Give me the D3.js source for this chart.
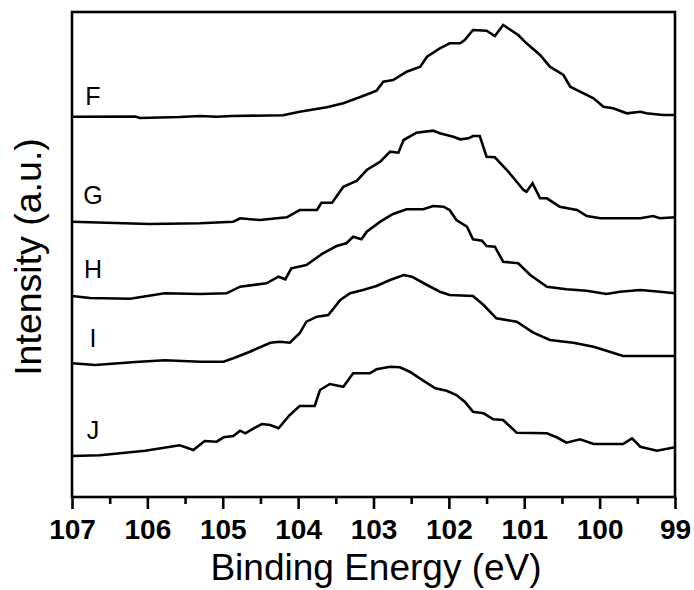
<!DOCTYPE html>
<html>
<head>
<meta charset="utf-8">
<script src="https://cdn.jsdelivr.net/npm/d3@7"></script>
<style>
  html, body { margin: 0; padding: 0; background: #fff; }
  svg { display: block; }
</style>
</head>
<body>
<svg id="chart" width="694" height="590"></svg>
<script>
// ---- data (binding energy in eV, intensity in arbitrary units, curves already offset) ----
const seriesNames = ["F", "G", "H", "I", "J"];

const energyF = [107.00,106.16,106.10,105.57,105.30,105.08,104.88,104.20,103.98,103.62,103.40,103.14,102.96,102.87,102.74,102.56,102.38,102.29,102.12,101.99,101.85,101.79,101.68,101.50,101.39,101.28,101.08,100.97,100.79,100.66,100.48,100.39,100.26,100.08,99.95,99.82,99.64,99.46,99.38,99.16,99.00];
const intensityF = [380.3,380.5,379,380,381,380.3,381,381.7,385.3,389.7,393.7,401,406.3,415.3,417,425.3,430.3,440.3,448.7,453.7,453.7,457,467,466.3,461,472,462,453.7,442,430.3,422,410.3,405.3,398.7,390.3,388.7,383.7,385.3,383.7,382,382];

const energyG = [107.00,105.97,105.30,104.86,104.77,104.51,104.15,103.98,103.75,103.69,103.55,103.40,103.22,103.09,102.91,102.78,102.67,102.60,102.43,102.21,102.12,101.94,101.85,101.74,101.68,101.59,101.50,101.39,101.23,101.01,100.97,100.89,100.79,100.70,100.53,100.30,100.17,99.99,99.46,99.29,99.20,99.00];
const intensityG = [275.3,273,273.7,275.3,278.7,277,279.7,287,287,294.3,294.3,310.3,316.3,327,335.3,345.3,344.3,357,364.3,366.3,363.7,360.3,357.7,358.7,361,361,340.3,339.7,327,307,305.3,313.7,298.7,298.7,290.3,287,281,278.7,278.7,281,278.7,279.7];

const energyH = [107.00,106.76,106.23,105.77,105.30,104.95,104.77,104.42,104.26,104.17,104.09,103.89,103.67,103.49,103.36,103.27,103.16,103.09,102.91,102.74,102.56,102.34,102.21,102.07,101.99,101.90,101.76,101.68,101.56,101.50,101.39,101.28,101.08,100.92,100.70,100.44,100.17,99.91,99.73,99.46,99.20,99.00];
const intensityH = [201,199,198.3,203.7,203,203.7,210.3,213.7,220.3,217.7,228.7,232,243.7,251,253.7,260.3,257.7,265.3,275.3,283,287.7,287.7,291,290.3,287,277,270.3,257.7,256.3,251,250.3,235.3,233.7,222,210.3,207.7,206.3,203,205.3,207,205.3,203.7];

const energyI = [107.00,106.69,106.16,105.77,105.30,104.99,104.86,104.64,104.37,104.24,104.11,103.98,103.89,103.75,103.60,103.44,103.31,103.14,102.96,102.78,102.60,102.49,102.29,102.12,101.99,101.68,101.54,101.37,101.10,100.88,100.66,100.35,100.08,99.91,99.69,99.00];
const intensityI = [133.7,132,135,136.7,135.3,135.3,138.7,145.3,154.3,155.3,154.3,163.7,175.3,180.3,182,197,203.7,207,211,217,222,220.3,212,205.3,202,201,192,178.7,175.3,164.3,157,154.3,150.3,146.3,141,141];

const energyJ = [107.00,106.63,106.03,105.57,105.39,105.24,105.08,104.99,104.86,104.77,104.70,104.59,104.48,104.37,104.26,104.11,103.98,103.78,103.71,103.58,103.40,103.27,103.05,102.96,102.78,102.65,102.52,102.34,102.18,102.03,101.90,101.79,101.68,101.54,101.41,101.28,101.10,100.70,100.57,100.44,100.26,100.08,99.69,99.57,99.46,99.24,99.00];
const intensityJ = [41,41.7,46.3,51.7,47,56,55.3,59.7,61,66.3,63.7,68.7,73,72,68.7,82,91,91,107,113,110.3,123.7,123.7,127.7,130.3,129.7,125.3,116.3,108.7,106.3,102,95.3,85.3,83.7,77.7,77,64.3,63.7,59.7,54.3,57.7,53,53,58.7,50.3,46.3,49.7];

const xTickValues = [107, 106, 105, 104, 103, 102, 101, 100, 99];
const xMinorTickValues = [106.5, 105.5, 104.5, 103.5, 102.5, 101.5, 100.5, 99.5];
const xTitle = "Binding Energy (eV)";
const yTitle = "Intensity (a.u.)";

// ---- layout ----
const FONT = "'Liberation Sans', Arial, Helvetica, sans-serif";
const svg = d3.select("#chart");
const mLeft = 72, mRight = 675, mTop = 12, mBottom = 497;

const x = d3.scaleLinear().domain([107, 99]).range([mLeft, mRight]);
const y = d3.scaleLinear().domain([0, 485]).range([mBottom, mTop]);

const series = [
  { name: "F", e: energyF, v: intensityF, labelDy: -12 },
  { name: "G", e: energyG, v: intensityG, labelDy: -18 },
  { name: "H", e: energyH, v: intensityH, labelDy: -18 },
  { name: "I", e: energyI, v: intensityI, labelDy: -16 },
  { name: "J", e: energyJ, v: intensityJ, labelDy: -17 }
];

const line = d3.line()
  .x(d => x(d[0]))
  .y(d => y(d[1]))
  .curve(d3.curveLinear);

const plot = svg.append("g");
series.forEach(s => {
  const pts = s.e.map((e, i) => [e, s.v[i]]);
  plot.append("path")
    .datum(pts)
    .attr("fill", "none")
    .attr("stroke", "#000")
    .attr("stroke-width", 2.6)
    .attr("stroke-linejoin", "miter")
    .attr("d", line);
  plot.append("text")
    .attr("x", 93)
    .attr("y", y(s.v[0]) + s.labelDy)
    .attr("text-anchor", "middle")
    .attr("font-family", FONT)
    .attr("font-size", 25)
    .attr("fill", "#000")
    .text(s.name);
});

// frame
svg.append("rect")
  .attr("x", mLeft).attr("y", mTop)
  .attr("width", mRight - mLeft).attr("height", mBottom - mTop)
  .attr("fill", "none").attr("stroke", "#000").attr("stroke-width", 2.6);

// bottom axis (major)
const xAxis = d3.axisBottom(x)
  .tickValues(xTickValues)
  .tickSize(12)
  .tickPadding(10)
  .tickFormat(d3.format("d"));
const gx = svg.append("g")
  .attr("transform", `translate(0,${mBottom})`)
  .call(xAxis);
gx.select(".domain").remove();
gx.selectAll(".tick line").attr("stroke", "#000").attr("stroke-width", 2.6);
gx.selectAll(".tick text")
  .attr("font-size", 28)
  .attr("font-weight", "bold")
  .attr("font-family", FONT)
  .attr("fill", "#000");

// minor ticks
const xMinor = d3.axisBottom(x).tickValues(xMinorTickValues).tickSize(7).tickFormat("");
const gm = svg.append("g").attr("transform", `translate(0,${mBottom})`).call(xMinor);
gm.select(".domain").remove();
gm.selectAll(".tick line").attr("stroke", "#000").attr("stroke-width", 2.6);

// axis titles
svg.append("text")
  .attr("x", 376)
  .attr("y", 580)
  .attr("text-anchor", "middle")
  .attr("font-family", FONT)
  .attr("font-size", 37)
  .attr("fill", "#000")
  .text(xTitle);

svg.append("text")
  .attr("transform", `translate(41,257) rotate(-90)`)
  .attr("text-anchor", "middle")
  .attr("font-family", FONT)
  .attr("font-size", 37.5)
  .attr("fill", "#000")
  .text(yTitle);
</script>
</body>
</html>
